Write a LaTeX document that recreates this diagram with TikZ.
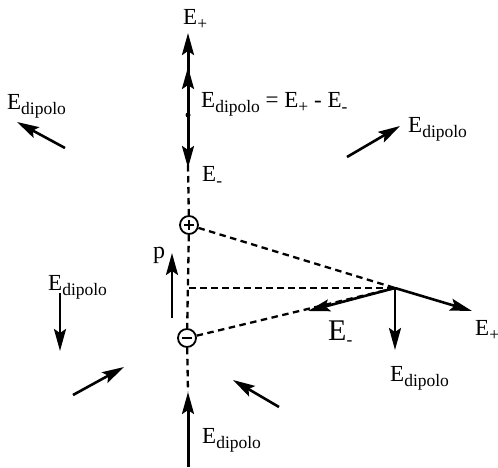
\documentclass[tikz,border=0pt]{standalone}
\usepackage{fontspec}
\setmainfont{Liberation Serif}
\usetikzlibrary{arrows.meta}
\tikzstyle{vec}=[-{Stealth[length=22pt,width=12pt,inset=4pt]},line width=2.6pt]
\tikzstyle{guide}=[dashed,dash pattern=on 6.5pt off 4.5pt,line width=2.3pt]
\tikzstyle{charge}=[circle,draw,line width=1.8pt,inner sep=0pt,minimum size=18pt]
\tikzstyle{lbl}=[anchor=base west,inner sep=0pt,font=\fontsize{23}{25}\selectfont]
\newcommand{\low}[1]{\raisebox{-5pt}{\fontsize{17.5}{18}\selectfont #1}}
\newcommand{\Edip}{E\low{dipolo}}

\begin{document}
\begin{tikzpicture}[x=1pt,y=-1pt]
      \useasboundingbox (0,0) rectangle (498,468);
      % charges and field point
      \node[charge] (qp) at (189,225) {};
      \node[charge] (qm) at (187,338) {};
      \draw[line width=1.6pt] (qp.center)++(-5,0)--++(10,0) (qp.center)++(0,-5)--++(0,10);
      \draw[line width=1.6pt] (qm.center)++(-5,0)--++(10,0);
      \coordinate (P) at (395,288);
      \coordinate (ax) at (189,288);
      \coordinate (o) at (188,115);
      \coordinate (top) at (188,165);
      \coordinate (bot) at (188,392);
      % dashed lines
      \draw[guide] (top)--(qp);
      \draw[guide] (qp)--(qm);
      \draw[guide] (qm)--(bot);
      \draw[guide] (qp)--(P);
      \draw[guide] (qm)--(P);
      \draw[guide] (ax)--(P);
      % field on the axis
      \coordinate (tEp) at (188,33);
      \coordinate (tEd) at (188,67);
      \coordinate (tEm) at (188,168);
      \coordinate (base) at (188,467);
      \draw[vec,line width=3pt] (o)--(tEp);
      \draw[vec,line width=3pt] (o)--(tEd);
      \draw[vec,line width=3pt] (o)--(tEm);
      \fill (o) circle (2.5pt);
      \draw[vec,line width=3pt] (base)--(bot);
      % field at P
      \coordinate (Pm) at (308,311);
      \coordinate (Pp) at (472,311);
      \coordinate (Pd) at (395,350);
      \draw[vec] (P)--(Pm);
      \draw[vec] (P)--(Pp);
      \draw[vec] (P)--(Pd);
      % dipole moment
      \coordinate (p0) at (172,318);
      \coordinate (p1) at (172,253);
      \draw[vec] (p0)--(p1);
      % field around
      \coordinate (a0) at (65,148);  \coordinate (a1) at (17,122);
      \coordinate (b0) at (347,157); \coordinate (b1) at (400,126);
      \coordinate (c0) at (60,293);  \coordinate (c1) at (60,351);
      \coordinate (d0) at (73,395);  \coordinate (d1) at (124,367);
      \coordinate (e0) at (279,407); \coordinate (e1) at (233,380);
      \draw[vec] (a0)--(a1);
      \draw[vec] (b0)--(b1);
      \draw[vec] (c0)--(c1);
      \draw[vec] (d0)--(d1);
      \draw[vec] (e0)--(e1);
      % labels
      \node[lbl] (lEp) at (183,25) {E\low{+}};
      \node[lbl] (lsum) at (201,108) {\Edip{} = E\low{+} - E\low{-}};
      \node[lbl] (lEm) at (202,182) {E\low{-}};
      \node[lbl] (l1) at (7,110) {\Edip};
      \node[lbl] (l2) at (408,133) {\Edip};
      \node[lbl] (l3) at (48,290) {\Edip};
      \node[lbl] (l4) at (202,443) {\Edip};
      \node[lbl] (l5) at (390,381) {\Edip};
      \node[lbl] (l6) at (475,335) {E\low{+}};
      \node[lbl,font=\fontsize{30}{32}\selectfont] (l7) at (328,340) {E\low{-}};
      \node[lbl,font=\fontsize{24}{26}\selectfont] (lp) at (153,258) {p};
    \end{tikzpicture}
\end{document}
